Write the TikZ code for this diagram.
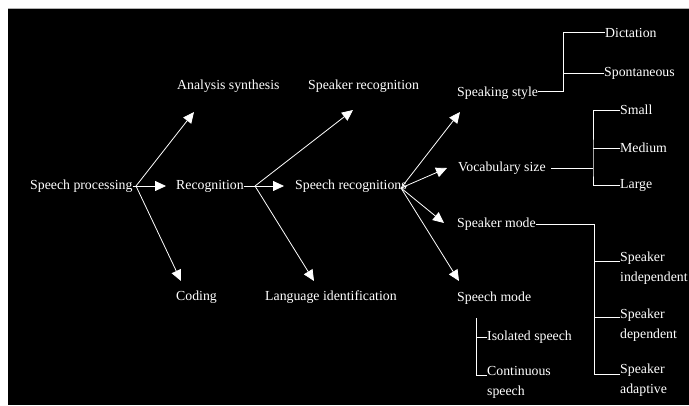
\documentclass[tikz,border=0pt]{standalone}
\usepackage{fontspec}
\setmainfont{Liberation Serif}
\usetikzlibrary{arrows.meta,calc}
\begin{document}
\begin{tikzpicture}[x=1pt,y=-1pt,
  lbl/.style={anchor=west,inner sep=0pt,text=white,font=\fontsize{13.8}{20}\selectfont},
  lbl2/.style={lbl,align=left},
  arr/.style={draw=white,line width=0.8pt,-{Triangle[length=11pt,width=10pt]}},
  bus/.style={draw=white,line width=0.8pt}]
\useasboundingbox (0,0) rectangle (689,405);
\fill[white] (0,0) rectangle (689,405);
\fill[black] (8,8.5) rectangle (689,405);
\draw[gray!60,line width=0.8pt] (8,8) -- (689,8);
% level 1
\node[lbl] (sp) at (30,186) {Speech processing};
\node[lbl] (as) at (177,86) {Analysis synthesis};
\node[lbl] (rec) at (176,186) {Recognition};
\node[lbl] (cod) at (176,297) {Coding};
% level 2
\node[lbl] (spkr) at (308,86) {Speaker recognition};
\node[lbl] (srec) at (295,186) {Speech recognitions};
\node[lbl] (lang) at (265,297) {Language identification};
% level 3
\node[lbl] (sst) at (457,93) {Speaking style};
\node[lbl] (voc) at (458,168) {Vocabulary size};
\node[lbl] (smode) at (457,224) {Speaker mode};
\node[lbl] (spm) at (457,298) {Speech mode};
% leaves
\node[lbl] (dic) at (605,33) {Dictation};
\node[lbl] (spon) at (604,73) {Spontaneous};
\node[lbl] (small) at (620,110) {Small};
\node[lbl] (medium) at (620,148) {Medium};
\node[lbl] (large) at (620,185) {Large};
\node[lbl2] (si) at (620,268) {Speaker\\independent};
\node[lbl2] (sd) at (620,325) {Speaker\\dependent};
\node[lbl2] (sa) at (620,380) {Speaker\\adaptive};
\node[lbl] (iso) at (487,337) {Isolated speech};
\node[lbl2] (cont) at (487,382) {Continuous\\speech};
% junctions and arrow tips
\coordinate (j1) at (136,186);
\coordinate (j2) at (255,186);
\coordinate (j3) at (401,188);
\coordinate (t-as) at (194,112);
\coordinate (t-rec) at (166,186);
\coordinate (t-cod) at (181,281);
\coordinate (t-spkr) at (353,110);
\coordinate (t-srec) at (284,186);
\coordinate (t-lang) at (314,281);
\coordinate (t-sst) at (460,112);
\coordinate (t-voc) at (447,168);
\coordinate (t-smode) at (444,223);
\coordinate (t-spm) at (459,281);
\draw[bus] (sp.east) -- (j1);
\draw[arr] (j1) -- (t-as);
\draw[arr] (j1) -- (t-rec);
\draw[arr] (j1) -- (t-cod);
\draw[bus] (rec.east) -- (j2);
\draw[arr] (j2) -- (t-spkr);
\draw[arr] (j2) -- (t-srec);
\draw[arr] (j2) -- (t-lang);
\draw[bus] (srec.east) -- (j3);
\draw[arr] (j3) -- (t-sst);
\draw[arr] (j3) -- (t-voc);
\draw[arr] (j3) -- (t-smode);
\draw[arr] (j3) -- (t-spm);
% speaking style
\coordinate (b1) at (563,91);
\draw[bus] (sst.east |- b1) -- (b1) |- ([yshift=1pt]dic.west);
\draw[bus] (b1 |- spon.west) -- (spon.west);
% vocabulary size
\coordinate (b2) at (593,168);
\draw[bus] ([xshift=5pt]voc.east) -- (b2);
\draw[bus] (small.west) -| (b2) |- (large.west);
\draw[bus] (b2 |- medium.west) -- (medium.west);
% speaker mode
\coordinate (b3) at (594,224);
\coordinate (c-si) at (620,261);
\coordinate (c-sd) at (620,317);
\coordinate (c-sa) at (620,374);
\draw[bus] (smode.east) -- (b3) |- (c-sa);
\draw[bus] (b3 |- c-si) -- (c-si);
\draw[bus] (b3 |- c-sd) -- (c-sd);
% speech mode
\coordinate (b4) at (476,318);
\coordinate (c-cont) at (487,375);
\draw[bus] (b4) |- (c-cont);
\draw[bus] (b4 |- iso.west) -- (iso.west);
\end{tikzpicture}
\end{document}
